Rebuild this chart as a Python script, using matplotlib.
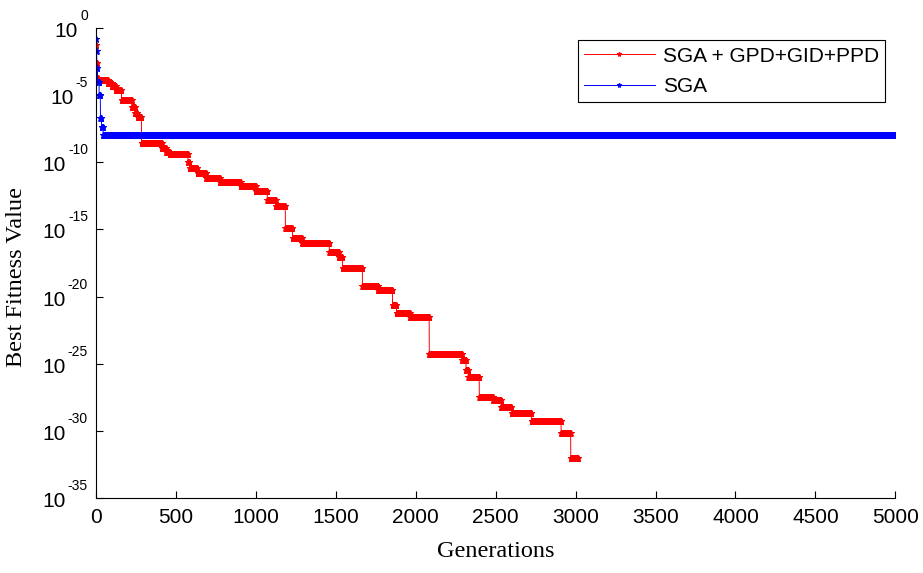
import numpy as np
import matplotlib
matplotlib.use("Agg")
import matplotlib.pyplot as plt
import matplotlib.transforms as mtransforms
from matplotlib.ticker import FixedLocator, NullLocator

plt.rcParams["font.family"] = ["Liberation Sans", "DejaVu Sans"]

# best fitness per generation, stored as (first generation of level, log10 value)
red_start = [0, 3, 8, 15, 75, 100, 125, 160, 225, 245, 260, 285, 413, 440, 463,
             576, 585, 635, 690, 776, 905, 1000, 1072, 1125, 1185, 1230, 1290,
             1460, 1520, 1542, 1667, 1765, 1855, 1880, 1965, 2085, 2290, 2315,
             2330, 2398, 2485, 2535, 2600, 2725, 2910, 2970]
red_log = [-1.27, -2.6, -3.7, -3.9, -4.1, -4.35, -4.6, -5.36, -5.9, -6.3, -6.6,
           -8.56, -8.9, -9.2, -9.4, -10.0, -10.4, -10.8, -11.2, -11.5, -11.8,
           -12.1, -12.8, -13.25, -14.9, -15.6, -16.0, -16.7, -17.05, -17.9,
           -19.2, -19.5, -20.6, -21.2, -21.5, -24.3, -24.7, -25.5, -26.0,
           -27.5, -27.7, -28.2, -28.7, -29.3, -30.2, -32.0]
red_end = 3015

blue_start = [0, 2, 5, 10, 20, 28, 35, 45]
blue_log = [-0.8, -1.7, -3.0, -4.0, -5.0, -6.7, -7.4, -7.97]
blue_end = 5000

x_ticks = [0, 500, 1000, 1500, 2000, 2500, 3000, 3500, 4000, 4500, 5000]
y_exps = [0, -5, -10, -15, -20, -25, -30, -35]


def expand(starts, logs, end):
    # run-length levels -> one value per generation (the GA keeps its best)
    runs = np.diff(list(starts) + [end])
    gens = np.arange(starts[0], end)
    vals = np.repeat(10.0 ** np.array(logs), runs)
    return gens, vals


fig = plt.figure(figsize=(9.23, 5.73), dpi=100)
ax = fig.add_axes([0.104, 0.131, 0.866, 0.82])

rg, rv = expand(red_start, red_log, red_end)
bg, bv = expand(blue_start, blue_log, blue_end)

ax.plot(rg, rv, color="red", lw=0.7, marker="*", ms=4.5, mew=0.7,
        label="SGA + GPD+GID+PPD")
ax.plot(bg, bv, color="blue", lw=0.7, marker="*", ms=4.5, mew=0.7,
        label="SGA")

ax.set_yscale("log")
ax.set_xlim(0, 5000)
ax.set_ylim(1e-35, 1e0)
ax.xaxis.set_major_locator(FixedLocator(x_ticks))
ax.yaxis.set_major_locator(FixedLocator([10.0 ** e for e in y_exps]))
ax.yaxis.set_minor_locator(NullLocator())
ax.set_yticklabels([])
ax.set_xticklabels([str(t) for t in x_ticks])

for s in ("top", "right"):
    ax.spines[s].set_visible(False)
for s in ("left", "bottom"):
    ax.spines[s].set_linewidth(0.8)
ax.tick_params(direction="in", length=5, width=0.8)
ax.tick_params(axis="x", labelsize=15, pad=7)

ax.set_xlabel("Generations", family="Liberation Serif", fontsize=17.5, labelpad=10)
ax.set_ylabel("Best Fitness Value", family="Liberation Serif", fontsize=17.5)
ax.yaxis.set_label_coords(-0.086, 0.47)

leg = ax.legend(loc="upper right", bbox_to_anchor=(0.9875, 0.974), fontsize=15,
                fancybox=False, edgecolor="black", framealpha=1,
                handlelength=3.4, handletextpad=0.4, markerscale=0.8,
                borderpad=0.3, labelspacing=0.54, borderaxespad=0)
leg.get_frame().set_linewidth(0.8)

# MATLAB-style "10" with raised exponent for the log ticks
fig.canvas.draw()
renderer = fig.canvas.get_renderer()
ytrans = mtransforms.blended_transform_factory(ax.transAxes, ax.transData)
for e in y_exps:
    v = 10.0 ** e
    sup = ax.text(0, v, str(e), fontsize=10, ha="right", va="baseline",
                  transform=mtransforms.offset_copy(ytrans, fig, x=-8, y=8, units="dots"))
    w = sup.get_window_extent(renderer).width
    ax.text(0, v, "10", fontsize=15, ha="right", va="baseline",
            transform=mtransforms.offset_copy(ytrans, fig, x=-8 - w - 2, y=-9, units="dots"))

fig.savefig("out.png", dpi=100)
